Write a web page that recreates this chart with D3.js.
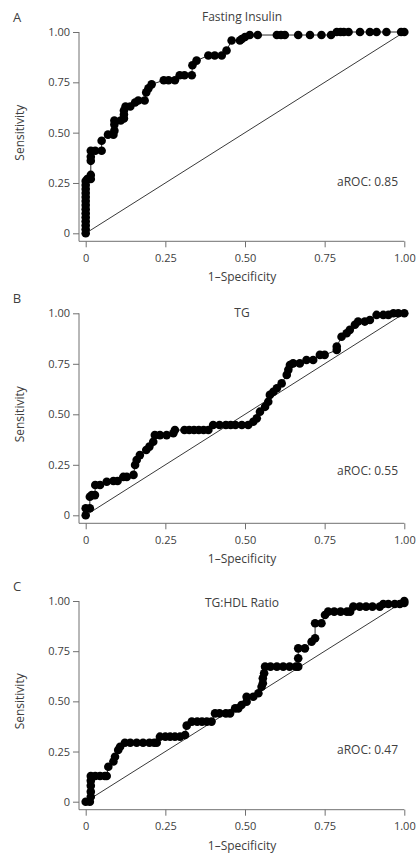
<!DOCTYPE html>
<html>
<head>
<meta charset="utf-8">
<script src="https://cdn.jsdelivr.net/npm/d3@7"></script>
<style>
  body { margin: 0; background: #fff; }
  text { font-family: "Open Sans", "Noto Sans", sans-serif; fill: #404040; }
</style>
</head>
<body>
<svg width="419" height="856"></svg>
<script>
// panel A - fasting insulin
var fi_fpr = [0,0,0,0,0,0,0,0,0,0,0,0,0,0,0.005,0.016,0.016,0.016,0.016,0.016,0.03,0.05,0.05,0.07,0.087,0.09,0.09,0.09,0.11,0.12,0.12,0.12,0.125,0.14,0.155,0.165,0.185,0.19,0.197,0.207,0.245,0.26,0.28,0.295,0.31,0.333,0.335,0.348,0.385,0.405,0.427,0.442,0.458,0.484,0.49,0.50,0.515,0.54,0.60,0.613,0.625,0.667,0.704,0.74,0.77,0.788,0.80,0.81,0.825,0.861,0.892,0.913,0.944,0.99,1.0];
var fi_tpr = [0,0.02,0.04,0.06,0.08,0.10,0.12,0.14,0.16,0.18,0.20,0.22,0.24,0.26,0.27,0.27,0.29,0.36,0.38,0.41,0.41,0.41,0.46,0.49,0.49,0.51,0.54,0.56,0.56,0.57,0.59,0.61,0.63,0.63,0.65,0.66,0.66,0.70,0.72,0.74,0.76,0.76,0.76,0.785,0.785,0.785,0.835,0.858,0.883,0.883,0.883,0.908,0.958,0.958,0.965,0.975,0.985,0.985,0.985,0.985,0.985,0.985,0.985,0.985,0.985,1,1,1,1,1,1,1,1,1,1];

// panel B - TG
var tg_fpr = [0,0,0.013,0.013,0.019,0.029,0.03,0.045,0.066,0.087,0.1,0.118,0.129,0.15,0.155,0.16,0.17,0.19,0.2,0.212,0.217,0.233,0.254,0.275,0.28,0.31,0.325,0.34,0.355,0.37,0.385,0.40,0.42,0.44,0.455,0.47,0.49,0.51,0.526,0.537,0.547,0.563,0.573,0.578,0.589,0.6,0.615,0.631,0.636,0.641,0.651,0.672,0.693,0.714,0.735,0.75,0.788,0.788,0.803,0.819,0.829,0.845,0.855,0.876,0.892,0.913,0.934,0.95,0.966,0.981,1.0];
var tg_tpr = [0,0.035,0.035,0.092,0.10,0.10,0.15,0.15,0.166,0.17,0.17,0.19,0.19,0.2,0.249,0.274,0.298,0.323,0.34,0.364,0.397,0.397,0.397,0.406,0.422,0.422,0.422,0.422,0.422,0.422,0.422,0.447,0.447,0.447,0.447,0.447,0.447,0.447,0.463,0.48,0.513,0.537,0.562,0.596,0.612,0.629,0.653,0.695,0.72,0.744,0.752,0.752,0.769,0.769,0.794,0.794,0.818,0.835,0.884,0.901,0.918,0.943,0.959,0.959,0.967,0.992,0.992,0.992,1.0,1.0,1.0];

// panel C - TG:HDL ratio
var hdl_fpr = [0,0.013,0.016,0.016,0.016,0.016,0.016,0.03,0.045,0.06,0.066,0.071,0.087,0.092,0.102,0.108,0.123,0.14,0.16,0.18,0.2,0.215,0.223,0.233,0.25,0.265,0.28,0.296,0.312,0.317,0.333,0.35,0.365,0.38,0.395,0.406,0.42,0.44,0.453,0.469,0.479,0.489,0.505,0.505,0.526,0.542,0.552,0.556,0.556,0.56,0.563,0.58,0.6,0.62,0.64,0.66,0.667,0.667,0.667,0.688,0.709,0.72,0.72,0.74,0.751,0.761,0.78,0.80,0.82,0.83,0.84,0.86,0.88,0.90,0.923,0.934,0.95,0.97,0.986,1.0,1.0];
var hdl_tpr = [0,0,0.025,0.05,0.08,0.105,0.128,0.128,0.128,0.128,0.128,0.174,0.2,0.224,0.258,0.274,0.294,0.294,0.294,0.294,0.294,0.294,0.294,0.324,0.324,0.324,0.324,0.324,0.332,0.379,0.399,0.399,0.399,0.399,0.399,0.44,0.44,0.44,0.44,0.465,0.465,0.482,0.498,0.523,0.523,0.54,0.573,0.59,0.615,0.64,0.673,0.673,0.673,0.673,0.673,0.673,0.673,0.715,0.764,0.764,0.797,0.814,0.889,0.889,0.93,0.947,0.947,0.947,0.947,0.947,0.972,0.972,0.972,0.972,0.972,0.985,0.985,0.985,0.985,0.99,1.0];

var panel_letters = ["A", "B", "C"];
var panel_titles = ["Fasting Insulin", "TG", "TG:HDL Ratio"];
var aroc_labels = ["aROC: 0.85", "aROC: 0.55", "aROC: 0.47"];
var tick_values = [0, 0.25, 0.5, 0.75, 1];
var tick_labels = ["0", "0.25", "0.50", "0.75", "1.00"];

var svg = d3.select("svg");

// layout of each panel: y of 1.00 tick, y of 0 tick, title y, aROC y
var panels = [
  {fpr: fi_fpr, tpr: fi_tpr, top: 32, bottom: 233.3, title_y: 21, aroc_y: 186},
  {fpr: tg_fpr, tpr: tg_tpr, top: 313.3, bottom: 515.3, title_y: 317, aroc_y: 475},
  {fpr: hdl_fpr, tpr: hdl_tpr, top: 601, bottom: 801.7, title_y: 607, aroc_y: 754}
];

var x = d3.scaleLinear().domain([0, 1]).range([85.7, 404.3]);

function plot_panel(p, i) {
  var y = d3.scaleLinear().domain([0, 1]).range([p.bottom, p.top]);
  var axis_y = p.bottom + 8;
  var g = svg.append("g").attr("class", "panel");

  // axes, L shaped frame
  var xa = g.append("g")
      .attr("transform", "translate(0," + axis_y + ")")
      .call(d3.axisBottom(x).tickValues(tick_values)
        .tickFormat(function(d, j) { return tick_labels[j]; })
        .tickSize(6).tickSizeOuter(0));
  xa.select(".domain").attr("d", "M79,0H404.3");

  var ya = g.append("g")
      .attr("transform", "translate(79,0)")
      .call(d3.axisLeft(y).tickValues(tick_values)
        .tickFormat(function(d, j) { return tick_labels[j]; })
        .tickSize(6).tickSizeOuter(0));
  ya.select(".domain").attr("d", "M0," + p.top + "V" + axis_y);

  g.selectAll(".domain, .tick line").attr("stroke", "#707070").attr("stroke-width", 1);
  g.selectAll(".tick text")
      .style("font-family", "'Open Sans', sans-serif")
      .style("font-size", "11px")
      .attr("fill", "#404040");
  xa.selectAll(".tick text").attr("dy", "1.05em");
  ya.selectAll(".tick text").attr("x", -9);

  // reference diagonal
  g.append("line")
      .attr("x1", x(0)).attr("y1", y(0))
      .attr("x2", x(1)).attr("y2", y(1))
      .attr("stroke", "#222").attr("stroke-width", 0.9);

  var pts = p.fpr.map(function(d, j) { return [d, p.tpr[j]]; });

  g.append("path")
      .datum(pts)
      .attr("fill", "none")
      .attr("stroke", "#111")
      .attr("stroke-width", 0.9)
      .attr("d", d3.line()
        .x(function(d) { return x(d[0]); })
        .y(function(d) { return y(d[1]); }));

  g.append("g")
      .selectAll("circle")
      .data(pts)
      .enter().append("circle")
      .attr("cx", function(d) { return x(d[0]); })
      .attr("cy", function(d) { return y(d[1]); })
      .attr("r", 4.3)
      .attr("fill", "#000");

  // texts
  g.append("text")
      .attr("x", 17).attr("y", p.top - 10)
      .attr("text-anchor", "middle")
      .style("font-size", "13px")
      .text(panel_letters[i]);

  g.append("text")
      .attr("x", 242).attr("y", p.title_y)
      .attr("text-anchor", "middle")
      .style("font-size", "12px")
      .text(panel_titles[i]);

  g.append("text")
      .attr("x", 398).attr("y", p.aroc_y)
      .attr("text-anchor", "end")
      .style("font-size", "12px")
      .text(aroc_labels[i]);

  g.append("text")
      .attr("x", 242).attr("y", p.bottom + 48)
      .attr("text-anchor", "middle")
      .style("font-size", "12px")
      .text("1\u2013Specificity");

  g.append("text")
      .attr("transform", "translate(24," + ((p.top + p.bottom) / 2) + ") rotate(-90)")
      .attr("text-anchor", "middle")
      .style("font-size", "12px")
      .text("Sensitivity");
}

panels.forEach(plot_panel);
</script>
</body>
</html>
